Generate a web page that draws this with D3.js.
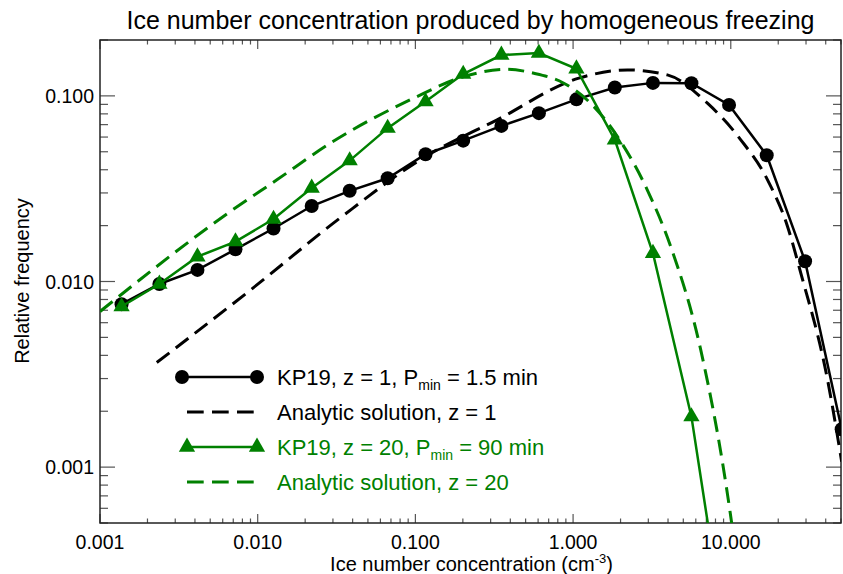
<!DOCTYPE html>
<html>
<head>
<meta charset="utf-8">
<script src="https://cdn.jsdelivr.net/npm/d3@7"></script>
<style>
  body { margin: 0; background: #fff; }
  svg { font-family: "Liberation Sans", Arial, sans-serif; }
</style>
</head>
<body>
<svg id="chart" width="843" height="574"></svg>
<script>
// Ice number concentration (cm-3) at each KP19 point
const xConc = [0.00137, 0.00238, 0.00415, 0.00723, 0.0126, 0.0220, 0.0383, 0.0667, 0.116, 0.201,
               0.351, 0.607, 1.05, 1.84, 3.21, 5.63, 9.75, 16.9, 29.6, 50.5];
// KP19 relative frequency, z = 1
const kp19z1 = [0.00755, 0.0097, 0.01155, 0.0149, 0.0193, 0.0255, 0.0308, 0.0360, 0.0485, 0.0574,
                0.0689, 0.0807, 0.0958, 0.111, 0.1175, 0.117, 0.0894, 0.0479, 0.01286, 0.0016];
// KP19 relative frequency, z = 20 (last point falls below the axis)
const kp19z20 = [0.00733, 0.0097, 0.0136, 0.0164, 0.0217, 0.0319, 0.0448, 0.067, 0.0932, 0.131,
                 0.166, 0.170, 0.140, 0.058, 0.0142, 0.00187, 0.00009];

// analytic solutions
const anaZ1X = [0.00229, 0.0090, 0.0331, 0.1156, 0.330, 1.088, 2.21, 3.96, 7.11, 11.57, 17.1, 22.9, 27.8, 41.1, 50.5];
const anaZ1Y = [0.00366, 0.0090, 0.0219, 0.0471, 0.0743, 0.1246, 0.138, 0.1297, 0.0913, 0.058, 0.0353, 0.0198, 0.0111, 0.00295, 0.00107];
const anaZ20X = [0.001, 0.00669, 0.01324, 0.02886, 0.0976, 0.2026, 0.382, 0.564, 0.874, 1.291, 2.003, 2.958, 4.16, 6.45, 10.0, 10.5];
const anaZ20Y = [0.00689, 0.0238, 0.0353, 0.0556, 0.0972, 0.127, 0.139, 0.1324, 0.117, 0.0913, 0.0568, 0.0311, 0.01542, 0.00428, 0.00054, 0.0004];

const xMajor = [0.001, 0.01, 0.1, 1, 10];
const xLabels = ["0.001", "0.010", "0.100", "1.000", "10.000"];
const yMajor = [0.001, 0.01, 0.1];
const yLabels = ["0.001", "0.010", "0.100"];

const green = "#008000";
const margin = { left: 100, right: 2, top: 40, bottom: 51 };
const W = 843, H = 574;

const svg = d3.select("#chart");

const x = d3.scaleLog().domain([0.001, 50]).range([margin.left, W - margin.right]);
const y = d3.scaleLog().domain([0.0005, 0.2]).range([H - margin.bottom, margin.top]);

const x0 = x.range()[0], x1 = x.range()[1];
const y0 = y.range()[0], y1 = y.range()[1];

// minor ticks: 2..9 within each decade
function minors(lo, hi) {
    const out = [];
    for (let e = -5; e <= 3; e++) {
        for (let m = 1; m <= 9; m++) {
            const v = m * Math.pow(10, e);
            if (v >= lo * 0.999 && v <= hi * 1.001) out.push({ v, major: m === 1 });
        }
    }
    return out;
}

svg.append("defs").append("clipPath").attr("id", "plotclip")
    .append("rect").attr("x", x0).attr("y", y1).attr("width", x1 - x0).attr("height", y0 - y1);

// ticks on all four sides, pointing inward
const tickCol = "#555";
const xt = minors(0.001, 50);
const tg = svg.append("g").attr("stroke", tickCol).attr("stroke-width", 1.2);
xt.forEach(t => {
    const len = t.major ? 9 : 4.5;
    const px = x(t.v);
    tg.append("line").attr("x1", px).attr("x2", px).attr("y1", y0).attr("y2", y0 - len);
    tg.append("line").attr("x1", px).attr("x2", px).attr("y1", y1).attr("y2", y1 + len);
});
const yt = minors(0.0005, 0.2);
yt.forEach(t => {
    const len = t.major ? 15 : 8;
    const py = y(t.v);
    tg.append("line").attr("x1", x0).attr("x2", x0 + len).attr("y1", py).attr("y2", py);
    tg.append("line").attr("x1", x1).attr("x2", x1 - len).attr("y1", py).attr("y2", py);
});

// frame
svg.append("rect").attr("x", x0).attr("y", y1).attr("width", x1 - x0).attr("height", y0 - y1)
    .attr("fill", "none").attr("stroke", "#222").attr("stroke-width", 1.5);

// tick labels
svg.append("g").selectAll("text").data(xMajor).join("text")
    .attr("x", d => x(d)).attr("y", y0 + 26)
    .attr("text-anchor", "middle").attr("font-size", 19.5)
    .text((d, i) => xLabels[i]);
svg.append("g").selectAll("text").data(yMajor).join("text")
    .attr("x", x0 - 6).attr("y", d => y(d) + 7)
    .attr("text-anchor", "end").attr("font-size", 19.5)
    .text((d, i) => yLabels[i]);

// titles
svg.append("text").attr("x", (x0 + x1) / 2).attr("y", 29).attr("text-anchor", "middle")
    .attr("font-size", 25).text("Ice number concentration produced by homogeneous freezing");

const xt2 = svg.append("text").attr("x", (x0 + x1) / 2 + 1).attr("y", 571)
    .attr("text-anchor", "middle").attr("font-size", 20);
xt2.append("tspan").text("Ice number concentration (cm");
xt2.append("tspan").attr("font-size", 13).attr("dy", -8).text("-3");
xt2.append("tspan").attr("dy", 8).text(")");

svg.append("text").attr("transform", "translate(29,281) rotate(-90)")
    .attr("text-anchor", "middle").attr("font-size", 20).text("Relative frequency");

// data
const plot = svg.append("g").attr("clip-path", "url(#plotclip)");
const line = d3.line().x(d => x(d[0])).y(d => y(d[1]));
const smooth = d3.line().x(d => x(d[0])).y(d => y(d[1])).curve(d3.curveMonotoneX);

const z1pts = xConc.map((v, i) => [v, kp19z1[i]]);
const z20pts = kp19z20.map((v, i) => [xConc[i], v]);
const a1pts = anaZ1X.map((v, i) => [v, anaZ1Y[i]]);
const a20pts = anaZ20X.map((v, i) => [v, anaZ20Y[i]]);

plot.append("path").attr("d", line(z1pts)).attr("fill", "none")
    .attr("stroke", "#000").attr("stroke-width", 2.5);
plot.selectAll("circle.z1").data(z1pts).join("circle").attr("class", "z1")
    .attr("cx", d => x(d[0])).attr("cy", d => y(d[1])).attr("r", 7).attr("fill", "#000");

plot.append("path").attr("d", smooth(a1pts)).attr("fill", "none")
    .attr("stroke", "#000").attr("stroke-width", 3).attr("stroke-dasharray", "16,8");

const tri = d3.symbol().type(d3.symbolTriangle).size(115);
plot.append("path").attr("d", line(z20pts)).attr("fill", "none")
    .attr("stroke", green).attr("stroke-width", 2.5);
plot.selectAll("path.z20").data(z20pts).join("path").attr("class", "z20")
    .attr("transform", d => `translate(${x(d[0])},${y(d[1])})`)
    .attr("d", tri).attr("fill", green);

plot.append("path").attr("d", smooth(a20pts)).attr("fill", "none")
    .attr("stroke", green).attr("stroke-width", 3).attr("stroke-dasharray", "16,8");

// legend
const lg = svg.append("g");
const lx0 = 182, lx1 = 257, ltx = 277;
const rows = [377, 412, 447, 482];

lg.append("line").attr("x1", lx0).attr("x2", lx1).attr("y1", rows[0]).attr("y2", rows[0])
    .attr("stroke", "#000").attr("stroke-width", 2.5);
[lx0, lx1].forEach(px => lg.append("circle").attr("cx", px).attr("cy", rows[0]).attr("r", 7).attr("fill", "#000"));

lg.append("line").attr("x1", lx0 + 5).attr("x2", lx1).attr("y1", rows[1]).attr("y2", rows[1])
    .attr("stroke", "#000").attr("stroke-width", 3).attr("stroke-dasharray", "16.7,8.3");

lg.append("line").attr("x1", lx0 + 5).attr("x2", lx1).attr("y1", rows[2]).attr("y2", rows[2])
    .attr("stroke", green).attr("stroke-width", 2.5);
[lx0 + 5, lx1].forEach(px => lg.append("path").attr("transform", `translate(${px},${rows[2]})`)
    .attr("d", tri).attr("fill", green));

lg.append("line").attr("x1", lx0 + 5).attr("x2", lx1).attr("y1", rows[3]).attr("y2", rows[3])
    .attr("stroke", green).attr("stroke-width", 3).attr("stroke-dasharray", "16.7,8.3");

function legendText(row, color, parts) {
    const t = lg.append("text").attr("x", ltx).attr("y", rows[row] + 8)
        .attr("font-size", 22).attr("fill", color);
    parts.forEach(p => {
        const s = t.append("tspan").text(p.text);
        if (p.sub) s.attr("font-size", 14).attr("dy", 5);
        if (p.back) s.attr("dy", -5);
    });
}
legendText(0, "#000", [{ text: "KP19, z = 1, P" }, { text: "min", sub: true }, { text: " = 1.5 min", back: true }]);
legendText(1, "#000", [{ text: "Analytic solution, z = 1" }]);
legendText(2, green, [{ text: "KP19, z = 20, P" }, { text: "min", sub: true }, { text: " = 90 min", back: true }]);
legendText(3, green, [{ text: "Analytic solution, z = 20" }]);
</script>
</body>
</html>
